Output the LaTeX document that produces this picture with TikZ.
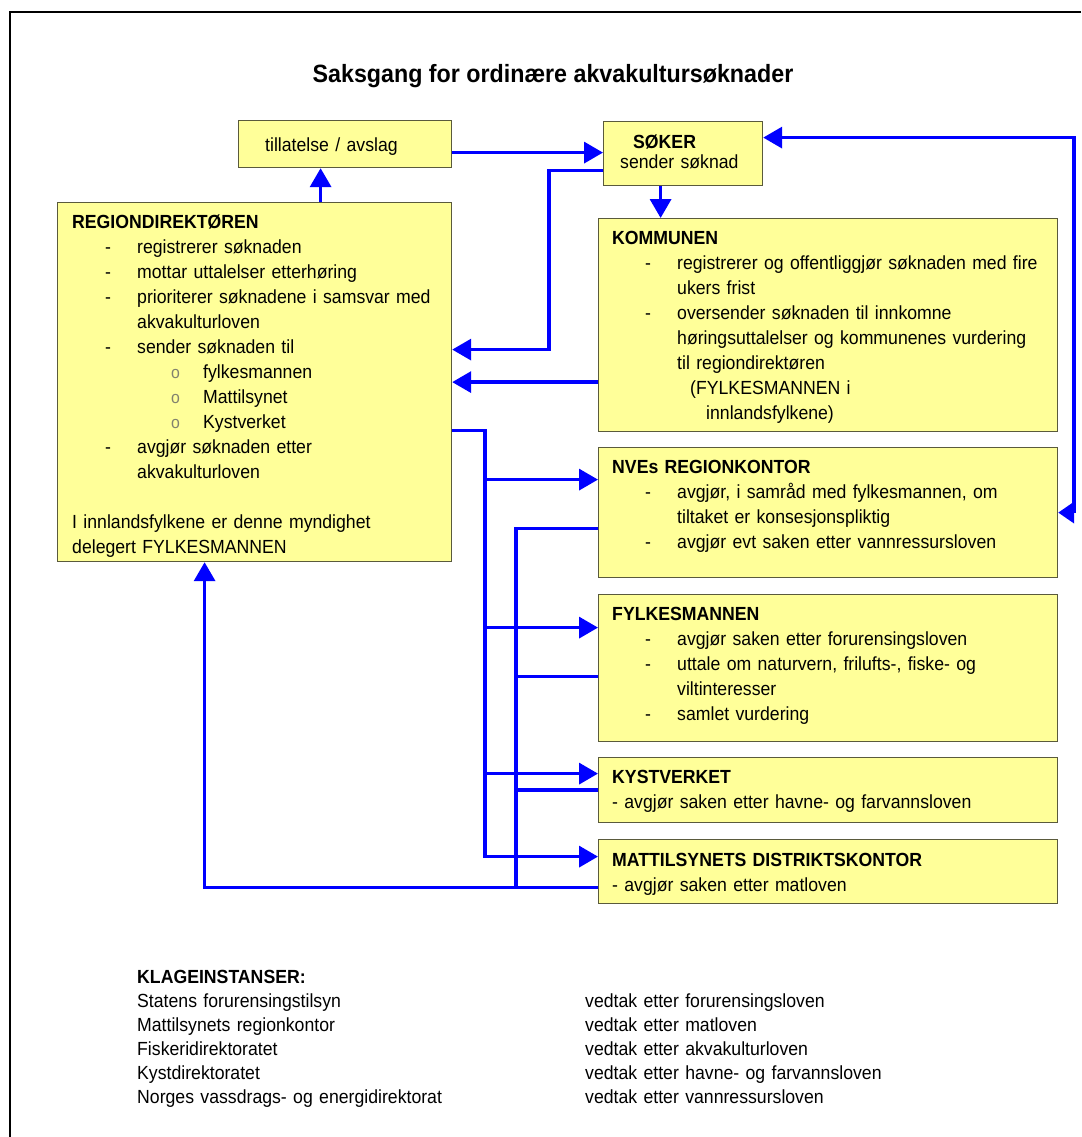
\documentclass[tikz,border=0pt]{standalone}
\usepackage{fontspec}
\setmainfont{Liberation Sans}[FakeStretch=0.93]
\usetikzlibrary{arrows.meta,positioning}

\definecolor{boxfill}{RGB}{255,255,153}
\definecolor{boxedge}{RGB}{90,90,60}
\definecolor{flowblue}{RGB}{0,0,255}
\definecolor{bulletgray}{RGB}{130,130,110}

% lines inside the boxes
\newcommand{\dashln}[1]{\hspace*{33pt}\makebox[32pt][l]{-}#1}
\newcommand{\contln}[1]{\hspace*{65pt}#1}
\newcommand{\circln}[1]{\hspace*{99pt}\makebox[32pt][l]{\textcolor{bulletgray}{\fontsize{17}{17}\selectfont o}}#1}

\tikzset{
  box/.style={draw=boxedge, fill=boxfill, line width=1.2pt, inner sep=0pt, anchor=north west},
  txt/.style={inner sep=0pt, anchor=north west, align=left, text width=#1, font=\fontsize{19}{25}\selectfont},
  flow/.style={draw=flowblue, line width=3.5pt, -{Triangle[length=19pt,width=21pt]}},
  link/.style={draw=flowblue, line width=3.5pt},
}

\begin{document}
\begin{tikzpicture}[x=1pt,y=-1pt]
\useasboundingbox (0,0) rectangle (1081,1137);
% frame
\draw[line width=1.2pt] (1081,12) -- (10,12) -- (10,1137);
% title
\node[font=\bfseries\fontsize{25}{30}\selectfont, anchor=base] (title) at (553,83) {Saksgang for ordinære akvakultursøknader};

% boxes
\node[box, minimum width=213pt, minimum height=47pt] (tl) at (238,120) {};
\node[box, minimum width=159pt, minimum height=64pt] (sk) at (603,121) {};
\node[box, minimum width=394pt, minimum height=359pt] (rd) at (57,202) {};
\node[box, minimum width=459pt, minimum height=213pt] (km) at (598,218) {};
\node[box, minimum width=459pt, minimum height=130pt] (nve) at (598,447) {};
\node[box, minimum width=459pt, minimum height=147pt] (fy) at (598,594) {};
\node[box, minimum width=459pt, minimum height=65pt] (ky) at (598,757) {};
\node[box, minimum width=459pt, minimum height=64pt] (mt) at (598,839) {};

% box texts
\node[txt=180pt, anchor=base west] (tl-txt) at ([shift={(27pt,-31pt)}]tl.north west) {tillatelse / avslag};
\node[txt=150pt] (sk-txt) at ([shift={(17pt,-10pt)}]sk.north west)
  {\strut\hspace*{13pt}\textbf{SØKER}\\[-5pt]sender søknad};
\node[txt=380pt] (rd-txt) at ([shift={(15pt,-8.5pt)}]rd.north west)
  {\strut\textbf{REGIONDIREKTØREN}\\
   \dashln{registrerer søknaden}\\
   \dashln{mottar uttalelser etterhøring}\\
   \dashln{prioriterer søknadene i samsvar med}\\
   \contln{akvakulturloven}\\
   \dashln{sender søknaden til}\\
   \circln{fylkesmannen}\\
   \circln{Mattilsynet}\\
   \circln{Kystverket}\\
   \dashln{avgjør søknaden etter}\\
   \contln{akvakulturloven}\\[25pt]
   I innlandsfylkene er denne myndighet\\
   delegert FYLKESMANNEN};
\node[txt=440pt] (km-txt) at ([shift={(14pt,-8.5pt)}]km.north west)
  {\strut\textbf{KOMMUNEN}\\
   \dashln{registrerer og offentliggjør søknaden med fire}\\
   \contln{ukers frist}\\
   \dashln{oversender søknaden til innkomne}\\
   \contln{høringsuttalelser og kommunenes vurdering}\\
   \contln{til regiondirektøren}\\
   \hspace*{78pt}(FYLKESMANNEN i\\
   \hspace*{94pt}innlandsfylkene)};
\node[txt=440pt] (nve-txt) at ([shift={(14pt,-8.5pt)}]nve.north west)
  {\strut\textbf{NVEs REGIONKONTOR}\\
   \dashln{avgjør, i samråd med fylkesmannen, om}\\
   \contln{tiltaket er konsesjonspliktig}\\
   \dashln{avgjør evt saken etter vannressursloven}};
\node[txt=440pt] (fy-txt) at ([shift={(14pt,-8.5pt)}]fy.north west)
  {\strut\textbf{FYLKESMANNEN}\\
   \dashln{avgjør saken etter forurensingsloven}\\
   \dashln{uttale om naturvern, frilufts-, fiske- og}\\
   \contln{viltinteresser}\\
   \dashln{samlet vurdering}};
\node[txt=440pt] (ky-txt) at ([shift={(14pt,-8.5pt)}]ky.north west)
  {\strut\textbf{KYSTVERKET}\\
   - avgjør saken etter havne- og farvannsloven};
\node[txt=440pt] (mt-txt) at ([shift={(14pt,-9.5pt)}]mt.north west)
  {\strut\textbf{MATTILSYNETS DISTRIKTSKONTOR}\\
   - avgjør saken etter matloven};

% tillatelse / soker / regiondirektoren
\coordinate (tl-out) at ([yshift=-8.5pt]tl.east);
\draw[flow] (tl-out) -- (tl-out -| sk.west);
\coordinate (rd-up) at ([xshift=66pt]rd.north);
\draw[flow] (rd-up) -- (rd-up |- tl.south);
\coordinate (sk-back) at ([yshift=-17pt]sk.west);
\draw[flow] (sk-back) -- ++(-54,0) |- ([yshift=32.5pt]rd.east);
\coordinate (sk-down) at ([xshift=-22.5pt]sk.south);
\draw[flow] (sk-down) -- (sk-down |- km.north);
\draw[flow] (rd.east -| km.west) -- (rd.east);
% NVE <-> soker
\coordinate (sk-in) at ([yshift=16pt]sk.east);
\coordinate (nve-r) at ([xshift=16pt]nve.east);
\draw[flow] (nve-r) |- (sk-in);
\draw[flow, -{Triangle[length=16pt,width=21pt]}] (nve-r) -- (nve.east);

% regiondirektoren sends out
\coordinate (rd-out) at ([yshift=-48.5pt]rd.east);
\coordinate (dist) at ([xshift=33pt]rd-out);
\coordinate (nve-in) at ([yshift=33pt]nve.west);
\coordinate (fy-in) at ([yshift=40.5pt]fy.west);
\coordinate (ky-in) at ([yshift=16.5pt]ky.west);
\coordinate (mt-in) at ([yshift=15pt]mt.west);
\draw[flow] (rd-out) -- (dist) |- (mt-in);
\foreach \t in {nve-in,fy-in,ky-in}
  \draw[flow] (dist |- \t) -- (\t);

% answers back
\coordinate (nve-out) at ([yshift=-16pt]nve.west);
\coordinate (fy-out) at ([yshift=-8.5pt]fy.west);
\coordinate (ky-out) at (ky.west);
\coordinate (mt-out) at ([yshift=-16pt]mt.west);
\coordinate (back) at ([xshift=-82pt]nve-out);
\draw[link] (nve-out) -| (back |- mt-out);
\foreach \s in {fy-out,ky-out}
  \draw[link] (\s) -- (back |- \s);
\draw[flow] (mt-out) -| ([xshift=-50pt]rd.south);

% klageinstanser
\node[txt=420pt, font=\fontsize{19}{24}\selectfont] (klage) at (137,966)
  {\strut\textbf{KLAGEINSTANSER:}\\
   Statens forurensingstilsyn\\
   Mattilsynets regionkontor\\
   Fiskeridirektoratet\\
   Kystdirektoratet\\
   Norges vassdrags- og energidirektorat};
\node[txt=420pt, font=\fontsize{19}{24}\selectfont] (vedtak) at (585,990)
  {\strut vedtak etter forurensingsloven\\
   vedtak etter matloven\\
   vedtak etter akvakulturloven\\
   vedtak etter havne- og farvannsloven\\
   vedtak etter vannressursloven};
\end{tikzpicture}
\end{document}
